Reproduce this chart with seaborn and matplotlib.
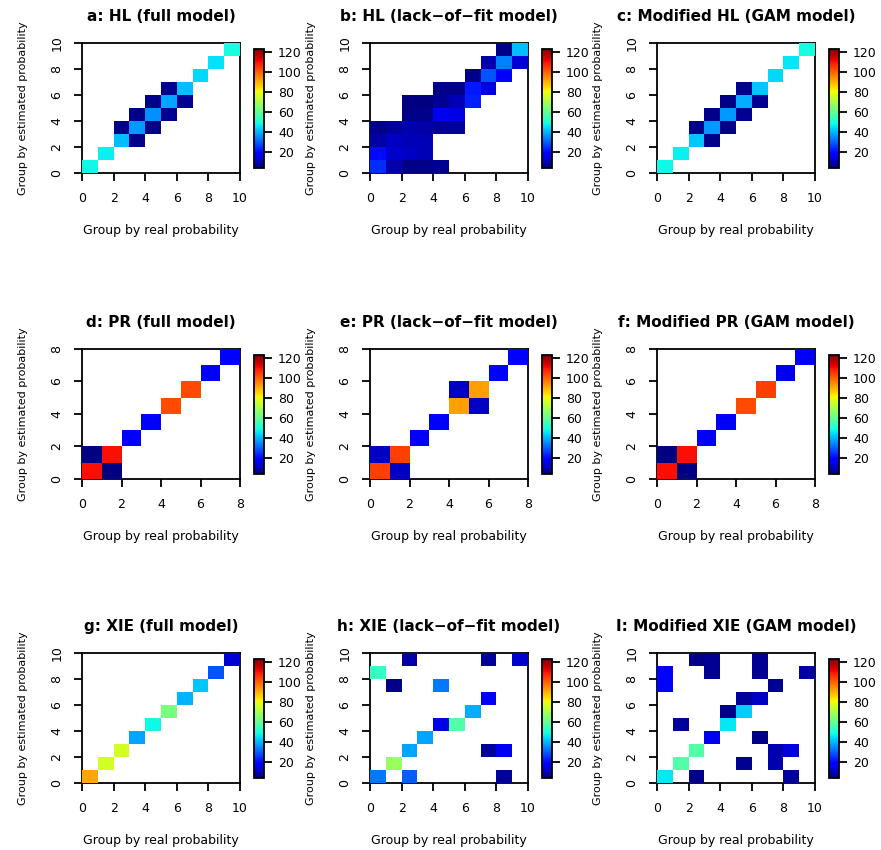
import numpy as np
import matplotlib
matplotlib.use("Agg")
import matplotlib.pyplot as plt
import seaborn as sns

plt.rcParams["font.family"] = ["DejaVu Sans"]

_ = None
# rows: estimated-probability group 0 (bottom) upwards; columns: real-probability group
hl_full = [
    [48, _, _, _, _, _, _, _, _, _],
    [_, 47, _, _, _, _, _, _, _, _],
    [_, _, 41, 5, _, _, _, _, _, _],
    [_, _, 5, 37, 5, _, _, _, _, _],
    [_, _, _, 5, 36, 6, _, _, _, _],
    [_, _, _, _, 5, 38, 6, _, _, _],
    [_, _, _, _, _, 5, 41, _, _, _],
    [_, _, _, _, _, _, _, 44, _, _],
    [_, _, _, _, _, _, _, _, 45, _],
    [_, _, _, _, _, _, _, _, _, 49],
]
hl_lof = [
    [24, 9, 5, 5, 6, _, _, _, _, _],
    [20, 12, 11, 10, _, _, _, _, _, _],
    [8, 11, 10, 10, _, _, _, _, _, _],
    [5, 7, 9, 8, 7, 7, _, _, _, _],
    [_, _, 5, 5, 16, 15, _, _, _, _],
    [_, _, 4, 4, 6, 10, 23, _, _, _],
    [_, _, _, _, 5, 5, 22, 14, _, _],
    [_, _, _, _, _, _, 5, 29, 17, _],
    [_, _, _, _, _, _, _, 9, 34, 13],
    [_, _, _, _, _, _, _, _, 5, 41],
]
hl_gam = [
    [48, _, _, _, _, _, _, _, _, _],
    [_, 47, _, _, _, _, _, _, _, _],
    [_, _, 42, 5, _, _, _, _, _, _],
    [_, _, 5, 37, 5, _, _, _, _, _],
    [_, _, _, 5, 37, 6, _, _, _, _],
    [_, _, _, _, 5, 39, 6, _, _, _],
    [_, _, _, _, _, 5, 42, _, _, _],
    [_, _, _, _, _, _, _, 44, _, _],
    [_, _, _, _, _, _, _, _, 46, _],
    [_, _, _, _, _, _, _, _, _, 49],
]
pr_full = [
    [110, 4, _, _, _, _, _, _],
    [4, 110, _, _, _, _, _, _],
    [_, _, 18, _, _, _, _, _],
    [_, _, _, 18, _, _, _, _],
    [_, _, _, _, 103, _, _, _],
    [_, _, _, _, _, 103, _, _],
    [_, _, _, _, _, _, 17, _],
    [_, _, _, _, _, _, _, 18],
]
pr_lof = [
    [104, 11, _, _, _, _, _, _],
    [11, 104, _, _, _, _, _, _],
    [_, _, 17, _, _, _, _, _],
    [_, _, _, 18, _, _, _, _],
    [_, _, _, _, 92, 11, _, _],
    [_, _, _, _, 11, 92, _, _],
    [_, _, _, _, _, _, 18, _],
    [_, _, _, _, _, _, _, 18],
]
pr_gam = [
    [110, 4, _, _, _, _, _, _],
    [4, 110, _, _, _, _, _, _],
    [_, _, 17, _, _, _, _, _],
    [_, _, _, 17, _, _, _, _],
    [_, _, _, _, 103, _, _, _],
    [_, _, _, _, _, 104, _, _],
    [_, _, _, _, _, _, 16, _],
    [_, _, _, _, _, _, _, 17],
]
xie_full = [
    [91, _, _, _, _, _, _, _, _, _],
    [_, 76, _, _, _, _, _, _, _, _],
    [_, _, 76, _, _, _, _, _, _, _],
    [_, _, _, 38, _, _, _, _, _, _],
    [_, _, _, _, 48, _, _, _, _, _],
    [_, _, _, _, _, 63, _, _, _, _],
    [_, _, _, _, _, _, 40, _, _, _],
    [_, _, _, _, _, _, _, 42, _, _],
    [_, _, _, _, _, _, _, _, 29, _],
    [_, _, _, _, _, _, _, _, _, 13],
]
xie_lof = [
    [33, _, 30, _, _, _, _, _, 7, _],
    [_, 68, _, _, _, _, _, _, _, _],
    [_, _, 38, _, _, _, _, 7, 16, _],
    [_, _, _, 38, _, _, _, _, _, _],
    [_, _, _, _, 15, 57, _, _, _, _],
    [_, _, _, _, _, _, 39, _, _, _],
    [_, _, _, _, _, _, _, 17, _, _],
    [_, 5, _, _, 33, _, _, _, _, _],
    [53, _, _, _, _, _, _, _, _, _],
    [_, _, 8, _, _, _, _, 7, _, 12],
]
xie_gam = [
    [46, _, 5, _, _, _, _, _, 7, _],
    [_, 57, _, _, _, 6, _, 9, _, _],
    [_, _, 57, _, _, _, _, 9, 14, _],
    [_, _, _, 16, _, _, 5, _, _, _],
    [_, 7, _, _, 46, _, _, _, _, _],
    [_, _, _, _, 5, 43, _, _, _, _],
    [_, _, _, _, _, 7, 11, _, _, _],
    [18, _, _, _, _, _, _, 6, _, _],
    [18, _, _, 6, _, _, 6, _, _, 8],
    [_, _, 5, 6, _, _, 6, _, _, _],
]

titles = [
    "a: HL (full model)", "b: HL (lack\u2212of\u2212fit model)", "c: Modified HL (GAM model)",
    "d: PR (full model)", "e: PR (lack\u2212of\u2212fit model)", "f: Modified PR (GAM model)",
    "g: XIE (full model)", "h: XIE (lack\u2212of\u2212fit model)", "I: Modified XIE (GAM model)",
]
panels = [hl_full, hl_lof, hl_gam, pr_full, pr_lof, pr_gam, xie_full, xie_lof, xie_gam]
cbar_ticks = [20, 40, 60, 80, 100, 120]

W, H = 881, 850
fig = plt.figure(figsize=(W / 100, H / 100), dpi=100)


def box(x, y, w, h):
    return [x / W, 1 - (y + h) / H, w / W, h / H]


col_x = [82, 370, 657]
row_y = [43, 349, 653]

for k, (mat, title) in enumerate(zip(panels, titles)):
    r, c = divmod(k, 3)
    ax = fig.add_axes(box(col_x[c], row_y[r], 158, 130))
    cax = fig.add_axes(box(col_x[c] + 172, row_y[r] + 6, 10, 119))
    data = np.array(mat, dtype=float)
    n = data.shape[0]
    sns.heatmap(data, ax=ax, cbar_ax=cax, cmap="jet", vmin=4, vmax=123)
    mesh = ax.collections[0]
    mesh.set_zorder(3)
    ax.set_xlim(0, n)
    ax.set_ylim(0, n)
    ticks = np.arange(0, n + 1, 2)
    ax.set_xticks(ticks)
    ax.set_xticklabels(ticks, rotation=0)
    ax.set_yticks(ticks)
    ax.set_yticklabels(ticks, rotation=90, va="center")
    for s in ax.spines.values():
        s.set_visible(True)
        s.set_linewidth(1.3)
        s.set_color("black")
    ax.tick_params(direction="out", length=6, width=1.3, labelsize=9, pad=7.5)
    ax.set_title(title, fontsize=11, fontweight="bold", pad=16)
    ax.set_xlabel("Group by real probability", fontsize=9, labelpad=14)
    ax.set_ylabel("Group by estimated probability", fontsize=8, labelpad=16)

    cb = mesh.colorbar
    cb.outline.set_visible(True)
    cb.outline.set_linewidth(1.3)
    cb.outline.set_edgecolor("black")
    cb.set_ticks(cbar_ticks)
    cax.tick_params(direction="out", length=6, width=1.3, labelsize=9, pad=4)

fig.savefig("out.png", dpi=100)
